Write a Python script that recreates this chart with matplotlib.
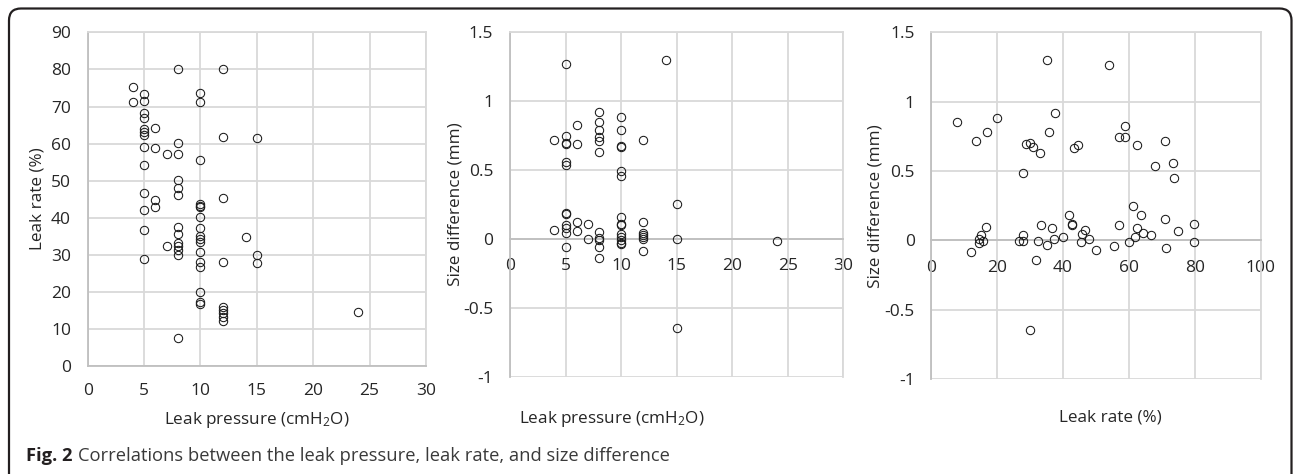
import matplotlib
matplotlib.use("Agg")
import matplotlib.pyplot as plt
from matplotlib.path import Path
from matplotlib.patches import PathPatch

plt.rcParams['font.family'] = ['Open Sans', 'DejaVu Sans']
plt.rcParams['axes.unicode_minus'] = False
plt.rcParams['mathtext.default'] = 'regular'

# ---------------- data ----------------
# Panel 1: leak pressure (cmH2O) vs leak rate (%)
lp1 = ([4] * 2 + [5] * 13 + [6] * 4 + [7] * 2 + [8] * 13 + [10] * 17 + [12] * 9
       + [14] + [15] * 3 + [24])
lr1 = [75.2, 71.2,
       73.4, 71.6, 68.2, 66.9, 64.0, 63.0, 62.3, 59.1, 54.3, 46.8, 42.1, 36.7, 28.8,
       64.3, 58.8, 44.8, 43.0,
       57.1, 32.5,
       80.1, 60.1, 57.1, 50.1, 48.1, 46.2, 37.6, 35.7, 33.3, 32.3, 31.3, 30.0, 7.7,
       73.7, 71.2, 55.7, 43.7, 43.2, 42.9, 40.2, 37.2, 35.1, 34.2, 33.4, 30.9, 28.0,
       26.8, 20.0, 17.3, 16.8,
       80.1, 61.7, 45.4, 28.0, 16.1, 15.2, 14.3, 13.3, 12.2,
       34.9,
       61.5, 30.0, 27.8,
       14.5]

# Panel 2: leak pressure (cmH2O) vs size difference (mm)
lp2 = ([4] * 2 + [5] * 12 + [6] * 4 + [7] * 2 + [8] * 11 + [10] * 14 + [12] * 7
       + [14] + [15] * 3 + [24])
sd2 = [0.72, 0.065,
       1.27, 0.75, 0.70, 0.69, 0.56, 0.54, 0.19, 0.18, 0.10, 0.08, 0.045, -0.055,
       0.83, 0.69, 0.12, 0.055,
       0.11, 0.0,
       0.92, 0.85, 0.79, 0.74, 0.71, 0.63, 0.05, 0.01, -0.01, -0.06, -0.14,
       0.885, 0.79, 0.675, 0.665, 0.49, 0.455, 0.16, 0.11, 0.10, 0.035, 0.015,
       -0.005, -0.03, -0.04,
       0.72, 0.12, 0.045, 0.03, 0.015, 0.0, -0.085,
       1.30,
       0.25, 0.0, -0.645,
       -0.015]

# Panel 3: leak rate (%) vs size difference (mm)
lr3 = [7.7, 13.6, 17.0, 19.9, 27.9, 28.7, 30.1, 30.9, 33.0, 35.0, 35.7, 37.5,
       43.3, 44.5, 54.0, 57.0, 58.8, 58.9, 62.4, 67.9, 71.0, 73.3, 73.6,
       16.6, 15.0, 14.6, 14.4, 15.8, 12.1, 26.6, 27.7, 27.9, 30.0, 31.8, 32.5,
       33.2, 35.0, 36.6, 37.1, 40.0, 41.9, 42.8, 42.8, 45.3, 45.9, 46.6, 48.0,
       49.9, 55.5, 57.1, 59.9, 61.7, 61.2, 63.6, 62.5, 64.2, 66.6, 71.0, 71.3,
       74.9, 79.8, 79.8]
sd3 = [0.851, 0.717, 0.784, 0.880, 0.489, 0.693, 0.705, 0.674, 0.631, 1.30,
       0.784, 0.919, 0.664, 0.688, 1.264, 0.743, 0.825, 0.746, 0.691, 0.537,
       0.717, 0.556, 0.448,
       0.099, 0.041, 0.012, -0.017, -0.007, -0.086, -0.003, -0.003, 0.038,
       -0.643, -0.144, -0.005, 0.113, -0.036, 0.089, 0.010, 0.024, 0.187, 0.12,
       0.11, -0.010, 0.045, 0.079, 0.010, -0.065, -0.041, 0.113, -0.012, 0.022,
       0.247, 0.185, 0.089, 0.055, 0.043, 0.156, -0.055, 0.065, 0.117, -0.009]

x_ticks_lp = [0, 5, 10, 15, 20, 25, 30]
y_ticks_lr = [0, 10, 20, 30, 40, 50, 60, 70, 80, 90]
y_ticks_sd = [-1, -0.5, 0, 0.5, 1, 1.5]
y_ticklabels_sd = ['-1', '-0.5', '0', '0.5', '1', '1.5']
x_ticks_lr = [0, 20, 40, 60, 80, 100]

# ---------------- layout ----------------
W, H = 1293, 474
fig = plt.figure(figsize=(W / 100, H / 100), dpi=100)
fig.patch.set_facecolor('white')


def px_axes(left, right, top, bottom):
    return fig.add_axes([left / W, 1 - bottom / H, (right - left) / W, (bottom - top) / H])


GRID = '#d9d9d9'
AXL = '#bfbfbf'
TXT = '#262626'
FS_TICK = 12.5
FS_LAB = 12.3
FS_CAP = 13.2


def style(ax):
    ax.set_facecolor('white')
    ax.grid(True, color=GRID, linewidth=1.3, zorder=0)
    ax.set_axisbelow(True)
    for s in ['top', 'right']:
        ax.spines[s].set_color(GRID)
        ax.spines[s].set_linewidth(1.3)
    for s in ['left', 'bottom']:
        ax.spines[s].set_color(AXL)
        ax.spines[s].set_linewidth(1.3)
    ax.tick_params(length=0, labelsize=FS_TICK, labelcolor=TXT, pad=12)


def scatter(ax, x, y):
    ax.plot(x, y, linestyle='none', marker='o', markersize=6, markerfacecolor='none',
            markeredgecolor='#1a1a1a', markeredgewidth=0.75, zorder=3, clip_on=False)


# Panel 1
ax1 = px_axes(87.7, 426, 32.3, 366.3)
style(ax1)
ax1.set_xlim(0, 30)
ax1.set_ylim(0, 90)
ax1.set_xticks(x_ticks_lp)
ax1.set_yticks(y_ticks_lr)
scatter(ax1, lp1, lr1)

# Panel 2
ax2 = px_axes(510, 843.3, 32.3, 376.7)
style(ax2)
ax2.set_xlim(0, 30)
ax2.set_ylim(-1, 1.5)
ax2.set_xticks(x_ticks_lp)
ax2.set_yticks(y_ticks_sd)
ax2.set_yticklabels(y_ticklabels_sd)
ax2.spines['bottom'].set_position(('data', 0))
ax2.tick_params(axis='x', pad=14)
scatter(ax2, lp2, sd2)

# Panel 3
ax3 = px_axes(931.3, 1260.7, 32.3, 379.3)
style(ax3)
ax3.set_xlim(0, 100)
ax3.set_ylim(-1, 1.5)
ax3.set_xticks(x_ticks_lr)
ax3.set_yticks(y_ticks_sd)
ax3.set_yticklabels(y_ticklabels_sd)
ax3.spines['bottom'].set_position(('data', 0))
ax3.tick_params(axis='x', pad=14)
scatter(ax3, lr3, sd3)


def ftext(x, y, s, **kw):
    return fig.text(x / W, 1 - y / H, s, **kw)


ftext(257, 420, 'Leak pressure (cmH$_2$O)', ha='center', va='center', fontsize=FS_LAB, color=TXT)
ftext(611.5, 419, 'Leak pressure (cmH$_2$O)', ha='center', va='center', fontsize=FS_LAB, color=TXT)
ftext(1110, 418, 'Leak rate (%)', ha='center', va='center', fontsize=FS_LAB, color=TXT)
ftext(37, 199, 'Leak rate (%)', ha='center', va='center', rotation=90, fontsize=FS_LAB, color=TXT)
ftext(456, 204, 'Size difference (mm)', ha='center', va='center', rotation=90, fontsize=FS_LAB, color=TXT)
ftext(875, 206, 'Size difference (mm)', ha='center', va='center', rotation=90, fontsize=FS_LAB, color=TXT)

# Caption
t1 = ftext(26, 456, 'Fig. 2', ha='left', va='center', fontsize=FS_CAP, fontweight='bold', color='#231f20')
fig.canvas.draw()
bb = t1.get_window_extent(renderer=fig.canvas.get_renderer())
ftext(bb.x1 + 6, 456, 'Correlations between the leak pressure, leak rate, and size difference',
      ha='left', va='center', fontsize=FS_CAP, color='#3a3a3a')

# Frame with rounded top corners
ov = fig.add_axes([0, 0, 1, 1], zorder=-5)
ov.set_xlim(0, W)
ov.set_ylim(H, 0)
ov.axis('off')
r = 12
x0, y0, x1 = 9, 8.5, 1291.5
verts = [(x0, H + 5), (x0, y0 + r), (x0, y0), (x0 + r, y0), (x1 - r, y0), (x1, y0),
         (x1, y0 + r), (x1, H + 5)]
codes = [Path.MOVETO, Path.LINETO, Path.CURVE3, Path.CURVE3, Path.LINETO, Path.CURVE3,
         Path.CURVE3, Path.LINETO]
ov.add_patch(PathPatch(Path(verts, codes), facecolor='none', edgecolor='#231f20', linewidth=1.6))

fig.savefig('out.png', dpi=100)
